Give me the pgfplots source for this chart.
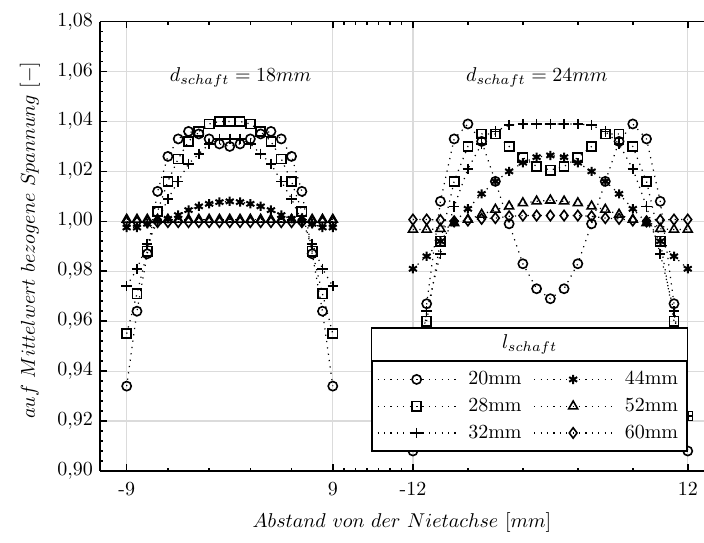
\documentclass[border=0pt]{standalone}
\usepackage{pgfplots}
\pgfplotsset{compat=1.18}
\usepackage{pgfplotstable}

% Stress ratio along the rivet axis, shank diameter 18 mm (x in mm)
\pgfplotstableread{
x     c20    c28    c32    c44     c52     c60
-9.0  0.934  0.955  0.974  0.9975  1.0007  0.9997
-8.1  0.964  0.971  0.981  0.9975  1.0007  0.9997
-7.2  0.987  0.988  0.991  0.9990  1.0007  0.9997
-6.3  1.012  1.004  1.000  1.0000  1.0007  0.9997
-5.4  1.026  1.016  1.009  1.0010  1.0007  0.9997
-4.5  1.033  1.025  1.016  1.0025  1.0007  0.9997
-3.6  1.036  1.032  1.023  1.0045  1.0007  0.9997
-2.7  1.035  1.036  1.027  1.0060  1.0007  0.9997
-1.8  1.033  1.039  1.031  1.0070  1.0007  0.9997
-0.9  1.031  1.040  1.033  1.0077  1.0007  0.9997
 0.0  1.030  1.040  1.033  1.0080  1.0007  0.9997
 0.9  1.031  1.040  1.033  1.0077  1.0007  0.9997
 1.8  1.033  1.039  1.031  1.0070  1.0007  0.9997
 2.7  1.035  1.036  1.027  1.0060  1.0007  0.9997
 3.6  1.036  1.032  1.023  1.0045  1.0007  0.9997
 4.5  1.033  1.025  1.016  1.0025  1.0007  0.9997
 5.4  1.026  1.016  1.009  1.0010  1.0007  0.9997
 6.3  1.012  1.004  1.000  1.0000  1.0007  0.9997
 7.2  0.987  0.988  0.991  0.9990  1.0007  0.9997
 8.1  0.964  0.971  0.981  0.9975  1.0007  0.9997
 9.0  0.934  0.955  0.974  0.9975  1.0007  0.9997
}\dschaftA

% Shank diameter 24 mm (x in mm, drawn shifted by 28 on the common axis)
\pgfplotstableread{
x      c20    c28    c32    c44    c52    c60
-12.0  0.908  0.922  0.922  0.981  0.9967 1.0007
-10.8  0.967  0.960  0.964  0.986  0.9967 1.0007
-9.6   1.008  0.992  0.987  0.992  0.9970 1.0005
-8.4   1.033  1.016  1.006  0.9995 0.9993 1.0000
-7.2   1.039  1.030  1.021  1.005  1.0007 1.0003
-6.0   1.032  1.035  1.031  1.011  1.0027 1.0010
-4.8   1.016  1.035  1.036  1.016  1.0047 1.0013
-3.6   0.999  1.030  1.0385 1.020  1.0060 1.0020
-2.4   0.983  1.0255 1.039  1.0235 1.0073 1.0023
-1.2   0.973  1.022  1.039  1.0257 1.0080 1.0023
 0.0   0.969  1.0205 1.039  1.0264 1.0084 1.0023
 1.2   0.973  1.022  1.039  1.0257 1.0080 1.0023
 2.4   0.983  1.0255 1.039  1.0235 1.0073 1.0023
 3.6   0.999  1.030  1.0385 1.020  1.0060 1.0020
 4.8   1.016  1.035  1.036  1.016  1.0047 1.0013
 6.0   1.032  1.035  1.031  1.011  1.0027 1.0010
 7.2   1.039  1.030  1.021  1.005  1.0007 1.0003
 8.4   1.033  1.016  1.006  0.9995 0.9993 1.0000
 9.6   1.008  0.992  0.987  0.992  0.9970 1.0005
 10.8  0.967  0.960  0.964  0.986  0.9967 1.0007
 12.0  0.908  0.922  0.922  0.981  0.9967 1.0007
}\dschaftB

\pgfplotsset{
  dotline/.style={black, line width=0.6pt, dash pattern=on 0.6pt off 2.6pt,
    mark size=2.3pt, mark options={solid, line width=0.8pt, fill=none}},
}

\begin{document}
\begin{tikzpicture}
\begin{axis}[
  scale only axis, width=302pt, height=224.7pt,
  xmin=-11.33, xmax=41.42, ymin=0.90, ymax=1.08,
  axis y line*=left,
  axis line style={line width=0.9pt, black},
  xtick={-9,9,16,40}, xticklabels={-9,9,-12,12},
  minor xtick={-5.4,-1.8,1.8,5.4,10,11,12,13,14,15,20.8,25.6,30.4,35.2},
  ytick={0.90,0.92,0.94,0.96,0.98,1.00,1.02,1.04,1.06,1.08},
  minor y tick num=4,
  tick align=inside,
  major tick length=3.3pt, minor tick length=1.7pt,
  tick style={black, line width=0.8pt},
  xmajorgrids, ymajorgrids,
  major grid style={black!14, line width=0.6pt},
  yticklabel style={/pgf/number format/.cd, fixed, fixed zerofill, precision=2, use comma},
  xticklabel style={yshift=-2pt},
  every axis x label/.style={at={(axis description cs:0.5,0)}, yshift=-26pt, anchor=center},
  every axis y label/.style={at={(axis description cs:0,0.5)}, xshift=-35pt, yshift=3pt, rotate=90, anchor=center},
  xlabel={$Abstand\ von\ der\ Nietachse\ [mm]$},
  ylabel={$auf\ Mittelwert\ bezogene\ Spannung\ [-]$},
  legend columns=2,
  legend cell align=left,
  legend image code/.code={\draw[mark repeat=2,mark phase=2,#1] plot coordinates {(0pt,0pt) (19.5pt,0pt) (39pt,0pt)};},
  legend style={name=lgd, at={(axis cs:40,0.9077)}, anchor=south east,
    draw=black, line width=0.65pt, fill=white, font=\normalsize,
    inner xsep=2.5pt, inner ysep=3pt, row sep=1.2pt,
    /tikz/every odd column/.append style={column sep=4pt},
    /tikz/every even column/.append style={column sep=4pt}},
]
\coordinate (SW) at (rel axis cs:0,0);
\coordinate (NE) at (rel axis cs:1,1);

% d_schaft = 18 mm  (plotted row by row of the two-column key)
\addplot[dotline, mark=o]        table[x=x, y=c20] {\dschaftA};
\addlegendentry{20mm}
\addplot[dotline, mark=asterisk, mark options={solid, line width=1pt}] table[x=x, y=c44] {\dschaftA};
\addlegendentry{44mm}
\addplot[dotline, mark=square]   table[x=x, y=c28] {\dschaftA};
\addlegendentry{28mm}
\addplot[dotline, mark=triangle, mark size=2.6pt] table[x=x, y=c52] {\dschaftA};
\addlegendentry{52mm}
\addplot[dotline, mark=+, mark size=2.6pt] table[x=x, y=c32] {\dschaftA};
\addlegendentry{32mm}
\addplot[dotline, mark=diamond, mark size=2.6pt]  table[x=x, y=c60] {\dschaftA};
\addlegendentry{60mm}

% d_schaft = 24 mm
\addplot[dotline, mark=o, forget plot]        table[x expr=\thisrow{x}+28, y=c20] {\dschaftB};
\addplot[dotline, mark=square, forget plot]   table[x expr=\thisrow{x}+28, y=c28] {\dschaftB};
\addplot[dotline, mark=+, mark size=2.6pt, forget plot] table[x expr=\thisrow{x}+28, y=c32] {\dschaftB};
\addplot[dotline, mark=asterisk, mark options={solid, line width=1pt}, forget plot] table[x expr=\thisrow{x}+28, y=c44] {\dschaftB};
\addplot[dotline, mark=triangle, mark size=2.6pt, forget plot] table[x expr=\thisrow{x}+28, y=c52] {\dschaftB};
\addplot[dotline, mark=diamond, mark size=2.6pt, forget plot]  table[x expr=\thisrow{x}+28, y=c60] {\dschaftB};

\node at (axis cs:0.95,1.0575) {$d_{schaft} = 18mm$};
\node at (axis cs:26.82,1.0575) {$d_{schaft} = 24mm$};
\end{axis}

% title row of the legend
\draw[line width=0.65pt, fill=white] (lgd.north west) rectangle ([yshift=16.3pt]lgd.north east);
\node at ([yshift=8.15pt]lgd.north) {$l_{schaft}$};

\pgfresetboundingbox
\useasboundingbox ([shift={(-50pt,-36pt)}]SW) rectangle ([shift={(0pt,10.8pt)}]NE);
\end{tikzpicture}
\end{document}
